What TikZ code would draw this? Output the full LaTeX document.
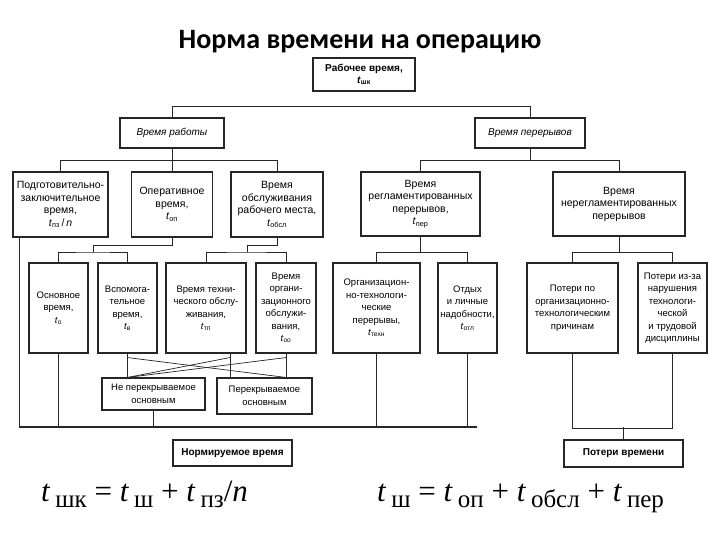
\documentclass[tikz,border=0pt]{standalone}
\usepackage{fontspec}
\setmainfont{Liberation Sans}
\newfontfamily\titlefont{Carlito}
\newfontfamily\formfont{Liberation Serif}
\usetikzlibrary{calc}
\newcommand\tsub[1]{\textit{t}\textsubscript{#1}}
\newcommand\fsub[1]{\textit{t}\hspace{5pt}\raisebox{-6pt}{\fontsize{25}{25}\selectfont #1}}
\begin{document}
\begin{tikzpicture}[x=1pt,y=-1pt,
  box/.style={draw=black!85, line width=1.1pt, align=center, inner sep=1pt,
    font=\fontsize{10.5}{12.5}\selectfont},
  hbox/.style={box, font=\itshape\fontsize{10}{12}\selectfont},
  sbox/.style={box, font=\fontsize{9.5}{12.5}\selectfont},
  bbox/.style={box, font=\bfseries\fontsize{10}{12}\selectfont},
  conn/.style={draw=black!85, line width=0.9pt},
  xconn/.style={draw=black!85, line width=0.7pt},
]
\useasboundingbox[fill=white] (0,0) rectangle (720,540);

\node[font=\titlefont\bfseries\fontsize{28}{32}\selectfont] (title) at (360,42) {Норма времени на операцию};

% level 0 / 1
\node[bbox, minimum width=102pt, minimum height=33pt] (top) at (364,74.5) {Рабочее время,\\ \tsub{шк}};
\node[hbox, minimum width=104pt, minimum height=30pt] (work) at (172,133) {Время работы};
\node[hbox, minimum width=110pt, minimum height=30pt] (brk) at (530,133) {Время перерывов};

% level 2
\node[box, minimum width=95pt, minimum height=65pt] (pz) at (60.5,204.5) {Подготовительно-\\заключительное\\время,\\ \tsub{пз}\,/\,\textit{n}};
\node[box, minimum width=81pt, minimum height=65pt] (op) at (172,204.5) {Оперативное\\время,\\ \tsub{оп}};
\node[box, minimum width=92pt, minimum height=65pt] (obsl) at (277,204.5) {Время\\обслуживания\\рабочего места,\\ \tsub{обсл}};
\node[box, minimum width=119pt, minimum height=64pt] (reg) at (420.5,204) {Время\\регламентированных\\перерывов,\\ \tsub{пер}};
\node[box, minimum width=132pt, minimum height=64pt] (nereg) at (619,204) {Время\\нерегламентированных\\перерывов};

% level 3
\node[sbox, line width=1.5pt, minimum width=59pt, minimum height=90pt] (osn) at (58.5,308) {Основное\\время,\\ \tsub{о}};
\node[sbox, minimum width=59pt, minimum height=90pt] (vsp) at (127.5,308) {Вспомога-\\тельное\\время,\\ \tsub{в}};
\node[sbox, minimum width=80pt, minimum height=90pt] (teh) at (206,308) {Время техни-\\ческого обслу-\\живания,\\ \tsub{тп}};
\node[sbox, minimum width=60pt, minimum height=90pt] (org) at (286,308) {Время\\органи-\\зационного\\обслужи-\\вания,\\ \tsub{оо}};
\node[sbox, minimum width=87pt, minimum height=90pt] (otp) at (376.5,308) {Организацион-\\но-технологи-\\ческие\\перерывы,\\ \tsub{техн}};
\node[sbox, minimum width=59pt, minimum height=90pt] (otd) at (467.5,308) {Отдых\\и личные\\надобности,\\ \tsub{отл}};
\node[sbox, minimum width=91pt, minimum height=90pt] (pot1) at (572.5,308) {Потери по\\организационно-\\технологическим\\причинам};
\node[sbox, minimum width=69pt, minimum height=90pt] (pot2) at (672.5,308) {Потери из-за\\нарушения\\технологи-\\ческой\\и трудовой\\дисциплины};

% level 4
\node[sbox, minimum width=103pt, minimum height=32pt] (ne) at (153.5,394) {Не перекрываемое\\основным};
\node[sbox, minimum width=95pt, minimum height=36pt] (per) at (264.5,396) {Перекрываемое\\основным};

% level 5
\node[bbox, minimum width=119pt, minimum height=26pt] (norm) at (232.5,453) {Нормируемое время};
\node[bbox, minimum width=119pt, minimum height=27pt] (loss) at (623.5,453.5) {Потери времени};

% formulas
\node[anchor=base west, inner sep=0pt, font=\formfont\fontsize{31}{31}\selectfont] (f1) at (41,501)
  {\fsub{шк} = \fsub{ш} + \fsub{пз}/\textit{n}};
\node[anchor=base west, inner sep=0pt, font=\formfont\fontsize{31}{31}\selectfont] (f2) at (377,501)
  {\fsub{ш} = \fsub{оп} + \fsub{обсл} + \fsub{пер}};

% connectors level 1
\draw[conn] (work.north) -- ++(0,-11) -| (brk.north);
% work -> level 2
\draw[conn] (work.south) -- ++(0,12) coordinate (wj);
\draw[conn] (pz.north) |- (wj) -| (obsl.north);
\draw[conn] (wj) -- (op.north);
% breaks -> level 2
\draw[conn] (brk.south) -- ++(0,12) coordinate (bj);
\draw[conn] (reg.north) |- (bj) -| (nereg.north);

% level 2 -> level 3
\coordinate (oj) at (93,252);
\draw[conn] (op.south) -- ++(0,8) -| (oj);
\draw[conn] (osn.north) |- (oj) -| (vsp.north);
\coordinate (sj) at (247,252);
\draw[conn] (obsl.south) -- ++(0,8) -| (sj);
\draw[conn] (teh.north) |- (sj) -| (org.north);
\draw[conn] (reg.south) -- ++(0,16) coordinate (rj);
\draw[conn] (otp.north) |- (rj) -| (otd.north);
\draw[conn] (nereg.south) -- ++(0,16) coordinate (nj);
\draw[conn] (pot1.north) |- (nj) -| (pot2.north);

% level 3 -> level 4
\draw[conn] (vsp.south) -- (vsp.south |- ne.north);
\draw[conn] ([xshift=24pt]teh.south) -- ([xshift=24pt]teh.south |- per.north);
\draw[conn] (org.south) -- (org.south |- per.north);
\draw[xconn] ([yshift=-4pt]vsp.south) -- (org.south |- per.north);
\draw[xconn] ([yshift=-4pt]org.south) -- (vsp.south |- ne.north);
\draw[xconn] ([yshift=-4pt,xshift=24pt]teh.south) -- (vsp.south |- ne.north);

% base line to normed time
\coordinate (baseR) at (477,427);
\draw[conn, line width=1.4pt] ([xshift=7pt]pz.south west) |- (baseR);
\draw[conn, line width=1.4pt] (osn.south) -- (osn.south |- baseR);
\foreach \n in {ne,otp,otd} \draw[conn] (\n.south) -- (\n.south |- baseR);

% losses
\draw[conn] (pot1.south) -- ++(0,75) -| (pot2.south);
\draw[conn] (loss.north) -- ++(0,-12);
\end{tikzpicture}
\end{document}
